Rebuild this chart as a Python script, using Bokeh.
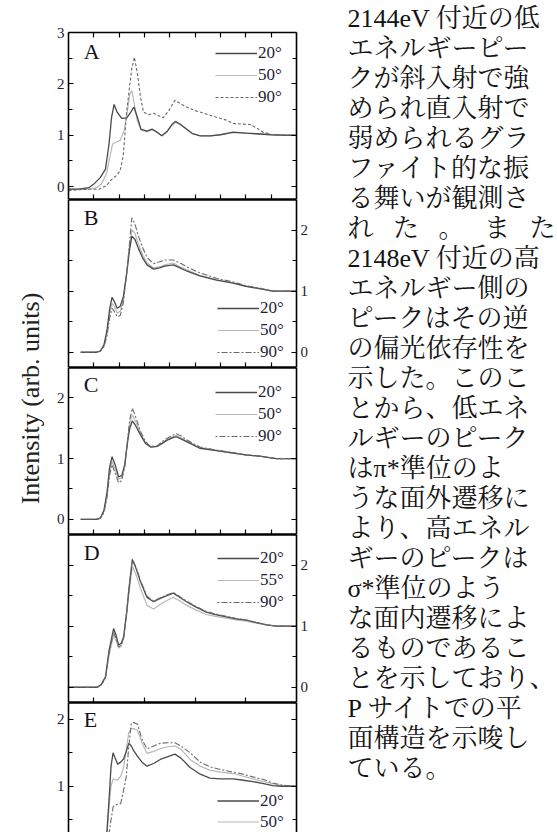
import numpy as np
from bokeh.plotting import figure
from bokeh.models import (Range1d, FixedTicker, LinearAxis, Label, Legend, LegendItem,
                          CustomJSTickFormatter, ColumnDataSource)
from bokeh.layouts import row, column
from bokeh.embed import file_html
from bokeh.resources import INLINE
from bokeh.core.properties import value

SERIF = "Liberation Serif"

# ---------------- data (photon energy in eV, normalised intensity) ----------------
X_TICKS = [2140, 2145, 2150, 2155, 2160, 2165, 2170, 2175]
X_TICKS_WIDE = [2140, 2150, 2160, 2170]

# Panel A
A_E20 = [2135, 2137, 2139, 2140, 2141.3, 2142.3, 2143, 2143.5, 2144, 2144.6, 2145.5, 2146.5, 2147.3,
         2147.9, 2148.5, 2149.3, 2150.5, 2151.5, 2152.5, 2153.4, 2154.5, 2155.5, 2156.1, 2157, 2158.3,
         2159.5, 2161, 2163, 2165, 2167.5, 2170, 2172, 2175, 2178, 2180]
A_I20 = [-0.05, -0.05, -0.02, 0.05, 0.18, 0.34, 0.83, 1.35, 1.6, 1.45, 1.33, 1.34, 1.45,
         1.55, 1.38, 1.12, 1.08, 1.12, 1.06, 0.99, 1.08, 1.22, 1.27, 1.22, 1.12,
         1.03, 0.99, 0.99, 1.01, 1.06, 1.04, 1.03, 1.01, 1.0, 1.0]
A_E50 = [2135, 2137, 2139, 2140.5, 2141.5, 2142.5, 2143.2, 2143.7, 2144.3, 2145.2, 2146, 2146.6, 2147.1,
         2147.5, 2148, 2148.6, 2149.3, 2150.5, 2151.5, 2152.5, 2153.4, 2154.5, 2155.5, 2156.1, 2157,
         2158.3, 2159.5, 2161, 2163, 2165, 2167.5, 2170, 2172, 2175, 2178, 2180]
A_I50 = [-0.05, -0.05, -0.05, -0.02, 0.05, 0.25, 0.6, 0.83, 0.86, 0.9, 1.1, 1.45, 1.8,
         1.87, 1.6, 1.28, 1.1, 1.07, 1.11, 1.06, 0.99, 1.07, 1.2, 1.25, 1.21,
         1.11, 1.03, 0.99, 0.99, 1.01, 1.05, 1.04, 1.03, 1.01, 1.0, 1.0]
A_E90 = [2135, 2137, 2139, 2141, 2142.5, 2143.3, 2144.5, 2145.2, 2145.8, 2146.5, 2147, 2147.5, 2148,
         2148.6, 2149.2, 2149.8, 2150.8, 2151.8, 2152.8, 2153.7, 2154.8, 2156, 2157, 2158.3, 2160,
         2162, 2164.2, 2166, 2167.5, 2169, 2170.8, 2172, 2173.4, 2175, 2176, 2178, 2180]
A_I90 = [-0.08, -0.06, -0.05, -0.05, 0.02, 0.12, 0.22, 0.31, 0.6, 1.48, 1.9, 2.3, 2.52,
         2.2, 1.75, 1.45, 1.4, 1.43, 1.38, 1.34, 1.48, 1.68, 1.62, 1.55, 1.48,
         1.42, 1.35, 1.3, 1.23, 1.22, 1.21, 1.15, 1.06, 1.02, 1.0, 1.0, 1.0]

# Panel B
B_E = [2137.4, 2139, 2140.5, 2141.3, 2142, 2142.6, 2143.1, 2143.6, 2144.1, 2144.6, 2145.2, 2145.8,
       2146.5, 2147, 2147.5, 2148.1, 2148.8, 2149.6, 2150.5, 2151.8, 2153, 2154, 2155.7, 2157,
       2158.3, 2160.9, 2164.2, 2167.5, 2170, 2172.7, 2175.3, 2178, 2180]
B_I20 = [0.0, 0.0, 0.0, 0.02, 0.12, 0.36, 0.7, 0.9, 0.82, 0.72, 0.75, 0.9,
         1.3, 1.65, 1.9, 1.85, 1.7, 1.55, 1.43, 1.36, 1.38, 1.41, 1.43, 1.38,
         1.33, 1.25, 1.18, 1.13, 1.08, 1.04, 1.0, 1.0, 1.0]
B_I50 = [0.0, 0.0, 0.0, 0.02, 0.1, 0.3, 0.62, 0.8, 0.74, 0.64, 0.67, 0.85,
         1.3, 1.7, 2.0, 1.95, 1.77, 1.6, 1.46, 1.38, 1.4, 1.43, 1.46, 1.4,
         1.35, 1.26, 1.19, 1.13, 1.08, 1.04, 1.0, 1.0, 1.0]
B_I90 = [0.0, 0.0, 0.0, 0.02, 0.09, 0.27, 0.55, 0.72, 0.66, 0.58, 0.6, 0.8,
         1.3, 1.75, 2.2, 2.1, 1.9, 1.72, 1.55, 1.45, 1.48, 1.51, 1.51, 1.46,
         1.4, 1.3, 1.21, 1.15, 1.09, 1.05, 1.0, 1.0, 1.0]

# Panel C
C_E = [2137.4, 2139, 2140.5, 2141.3, 2142, 2142.6, 2143.1, 2143.6, 2144.2, 2144.9, 2145.5, 2146.1,
       2146.7, 2147.1, 2147.6, 2148.2, 2149.2, 2150.2, 2151.2, 2152.5, 2153.5, 2154.4, 2155.5, 2156.3,
       2157.3, 2158.3, 2160.9, 2164.2, 2167.5, 2170, 2172.7, 2176, 2180]
C_I20 = [0.0, 0.0, 0.0, 0.02, 0.15, 0.44, 0.85, 1.03, 0.9, 0.7, 0.72, 0.9,
         1.3, 1.5, 1.62, 1.55, 1.39, 1.25, 1.19, 1.2, 1.25, 1.3, 1.34, 1.36,
         1.32, 1.28, 1.17, 1.13, 1.09, 1.06, 1.04, 1.0, 1.0]
C_I50 = [0.0, 0.0, 0.0, 0.02, 0.13, 0.4, 0.78, 0.95, 0.82, 0.66, 0.68, 0.88,
         1.32, 1.58, 1.72, 1.62, 1.42, 1.26, 1.19, 1.2, 1.26, 1.31, 1.36, 1.38,
         1.34, 1.29, 1.18, 1.13, 1.09, 1.06, 1.04, 1.0, 1.0]
C_I90 = [0.0, 0.0, 0.0, 0.02, 0.11, 0.36, 0.72, 0.9, 0.76, 0.6, 0.64, 0.86,
         1.35, 1.65, 1.83, 1.7, 1.45, 1.28, 1.2, 1.21, 1.28, 1.33, 1.38, 1.41,
         1.37, 1.31, 1.19, 1.14, 1.1, 1.06, 1.04, 1.0, 1.0]

# Panel D
D_E = [2135, 2137, 2139, 2140.7, 2141.5, 2142.3, 2143, 2143.9, 2144.4, 2144.9, 2145.4, 2145.9,
       2146.5, 2146.9, 2147.6, 2148.3, 2149.2, 2150.5, 2151.8, 2153, 2154.4, 2155.7, 2157, 2158.3,
       2160, 2162.2, 2164, 2166.2, 2168, 2170.1, 2172, 2174.1, 2176, 2180]
D_I20 = [0.0, 0.0, 0.0, 0.0, 0.05, 0.17, 0.6, 0.96, 0.85, 0.69, 0.72, 0.83,
         1.25, 1.59, 2.09, 1.95, 1.73, 1.47, 1.4, 1.45, 1.5, 1.54, 1.47, 1.4,
         1.32, 1.23, 1.19, 1.15, 1.12, 1.1, 1.06, 1.02, 1.0, 1.0]
D_I55 = [0.0, 0.0, 0.0, 0.0, 0.04, 0.15, 0.52, 0.85, 0.76, 0.64, 0.67, 0.8,
         1.2, 1.52, 1.98, 1.85, 1.62, 1.34, 1.28, 1.35, 1.42, 1.47, 1.41, 1.34,
         1.27, 1.19, 1.16, 1.13, 1.1, 1.08, 1.05, 1.02, 1.0, 1.0]
D_I90 = [0.0, 0.0, 0.0, 0.0, 0.04, 0.16, 0.56, 0.9, 0.8, 0.66, 0.69, 0.82,
         1.24, 1.58, 2.1, 1.97, 1.75, 1.49, 1.41, 1.46, 1.51, 1.55, 1.48, 1.41,
         1.33, 1.24, 1.2, 1.16, 1.13, 1.1, 1.06, 1.02, 1.0, 1.0]

# Panel E
E_E = [2137.4, 2139, 2140.5, 2141.5, 2142.2, 2142.6, 2143, 2143.4, 2143.8, 2144.2, 2144.7, 2145.3,
       2145.9, 2146.4, 2146.9, 2147.4, 2147.8, 2148.6, 2149.5, 2150.5, 2151.8, 2153.1, 2154.5, 2156,
       2157.2, 2159, 2161, 2162.9, 2165, 2167.5, 2169.5, 2171.4, 2173.5, 2175.3, 2177, 2180]
E_I20 = [0.0, 0.0, 0.0, 0.03, 0.12, 0.34, 0.8, 1.3, 1.5, 1.42, 1.33, 1.36,
         1.41, 1.52, 1.64, 1.6, 1.54, 1.45, 1.36, 1.3, 1.34, 1.4, 1.44, 1.48,
         1.42, 1.28, 1.18, 1.12, 1.11, 1.11, 1.09, 1.07, 1.04, 1.01, 1.0, 1.0]
E_I50 = [0.0, 0.0, 0.0, 0.03, 0.1, 0.3, 0.7, 1.0, 1.11, 1.1, 1.09, 1.15,
         1.29, 1.55, 1.8, 1.86, 1.86, 1.84, 1.65, 1.49, 1.52, 1.56, 1.59, 1.6,
         1.55, 1.4, 1.3, 1.24, 1.21, 1.19, 1.15, 1.11, 1.07, 1.04, 1.01, 1.0]
E_I90 = [0.0, 0.0, 0.0, 0.02, 0.06, 0.15, 0.3, 0.5, 0.69, 0.72, 0.73, 0.74,
         0.95, 1.14, 1.6, 1.94, 1.95, 1.93, 1.7, 1.56, 1.6, 1.64, 1.65, 1.65,
         1.6, 1.5, 1.36, 1.29, 1.25, 1.21, 1.18, 1.14, 1.1, 1.05, 1.02, 1.0]

Y_LABEL = "Intensity (arb. units)"

TEXT_LINES = [
    "2144eV 付近の低", "エネルギーピー", "クが斜入射で強", "められ直入射で",
    "弱められるグラ", "ファイト的な振", "る舞いが観測さ", "れ\u2002 た\u2002 。\u2002 ま\u2002 た",
    "2148eV 付近の高", "エネルギー側の", "ピークはその逆", "の偏光依存性を",
    "示した。このこ", "とから、低エネ", "ルギーのピーク", "はπ*準位のよ",
    "うな面外遷移に", "より、高エネル", "ギーのピークは", "σ*準位のよう",
    "な面内遷移によ", "るものであるこ", "とを示しており、", "P サイトでの平",
    "面構造を示唆し", "ている。",
]

# ---------------- styling helpers ----------------
TOTAL_W, TOTAL_H = 557, 832
LABEL_W = 44
FRAME_W = 228
BORDER_L, BORDER_R = 24, 40
C20, C50, C90 = "#4a4a4a", "#b8b8b8", "#6a6a6a"
DASH_A = "3 2"
DASH_BE = "2 2 6 2"


def blank_axis(ax):
    ax.formatter = CustomJSTickFormatter(code="return ''")
    ax.major_label_text_font_size = "0px"
    ax.major_label_standoff = 0


def add_axis(p, side, major, minor, labelled, lw=1.6, tick_in=5):
    ax = LinearAxis(ticker=FixedTicker(ticks=major, minor_ticks=minor),
                    axis_line_width=lw, axis_line_color="black",
                    major_tick_in=tick_in, major_tick_out=0, major_tick_line_width=1.2,
                    minor_tick_in=4, minor_tick_out=0, minor_tick_line_width=1.0,
                    major_label_standoff=4, major_label_text_font=SERIF,
                    major_label_text_font_size="15px", major_label_text_color="#1e1e38")
    if not labelled:
        blank_axis(ax)
    p.add_layout(ax, side)


def panel(y0, y1, fh, top, letter, letter_y, ymajor, yminor, left_labels,
          bottom_ticks=X_TICKS, bottom_axis=True):
    p = figure(frame_width=FRAME_W, frame_height=fh,
               x_range=Range1d(2135, 2180), y_range=Range1d(y0, y1),
               min_border_left=BORDER_L, min_border_right=BORDER_R,
               min_border_top=top, min_border_bottom=0,
               x_axis_location=None, y_axis_location=None,
               output_backend="svg", toolbar_location=None)
    p.outline_line_color = None
    p.grid.visible = False
    add_axis(p, "left", ymajor, yminor, left_labels)
    add_axis(p, "right", ymajor, yminor, not left_labels)
    if top > 0:
        add_axis(p, "above", X_TICKS, [], False, lw=1.6)
    else:
        add_axis(p, "above", X_TICKS, [], False, lw=2.4, tick_in=0)
    if bottom_axis:
        add_axis(p, "below", bottom_ticks, [], False, lw=2.4)
    p.add_layout(Label(x=2138.0, y=letter_y, text=letter, text_font=SERIF,
                       text_font_size="22px", text_color="#111122"))
    return p


def curves(p, e1, i1, e2, i2, e3, i3, labels, dash90, loc, n_items=3, row_h=22):
    r50 = p.line(e2, i2, line_color=C50, line_width=1.2)
    r20 = p.line(e1, i1, line_color=C20, line_width=1.3)
    r90 = p.line(e3, i3, line_color=C90, line_width=1.1, line_dash=dash90)
    rends = [r20, r50, r90]
    items = [LegendItem(label=labels[k], renderers=[rends[k]]) for k in range(n_items)]
    leg = Legend(items=items, location=loc, padding=0, margin=0, spacing=0,
                 glyph_width=42, glyph_height=row_h, label_height=row_h, label_standoff=1,
                 label_text_font=SERIF, label_text_font_size="17px",
                 label_text_color="#1e1e38",
                 background_fill_alpha=0, border_line_alpha=0)
    p.add_layout(leg)


pA = panel(-0.25, 3.0, 167, 32, "A", 2.39, [0, 1, 2, 3], [0.5, 1.5, 2.5], True)
curves(pA, A_E20, A_I20, A_E50, A_I50, A_E90, A_I90, ["20°", "50°", "90°"], DASH_A, (147, 91))

pB = panel(-0.25, 2.5, 168, 0, "B", 2.0, [0, 1, 2], [0.5, 1.5], False)
curves(pB, B_E, B_I20, B_E, B_I50, B_E, B_I90, ["20°", "50°", "90°"], DASH_BE, (149, 4))

pC = panel(-0.25, 2.5, 167, 0, "C", 2.02, [0, 1, 2], [0.5, 1.5], True)
curves(pC, C_E, C_I20, C_E, C_I50, C_E, C_I90, ["20°", "50°", "90°"], DASH_BE, (147, 87))

pD = panel(-0.25, 2.5, 168, 0, "D", 2.0, [0, 1, 2], [0.5, 1.5], False, bottom_ticks=X_TICKS_WIDE)
curves(pD, D_E, D_I20, D_E, D_I55, D_E, D_I90, ["20°", "55°", "90°"], DASH_BE, (149, 89))

pE = panel(0.31, 2.25, 130, 0, "E", 1.81, [0, 1, 2], [0.5, 1.5], True, bottom_axis=False)
curves(pE, E_E, E_I20, E_E, E_I50, E_E, E_I90, ["20°", "50°", "90°"], DASH_BE, (149, 0),
       n_items=2, row_h=21)

# y-axis title strip
lp = figure(width=LABEL_W, height=TOTAL_H, x_range=Range1d(0, LABEL_W), y_range=Range1d(0, TOTAL_H),
            min_border=0, x_axis_location=None, y_axis_location=None,
            output_backend="svg", toolbar_location=None)
lp.outline_line_color = None
lp.grid.visible = False
lp.add_layout(Label(x=30, y=TOTAL_H - 398, text=Y_LABEL, angle=np.pi / 2,
                    text_align="center", text_baseline="middle",
                    text_font=SERIF, text_font_size="26px", text_color="#222222"))

# Japanese description column
TW = TOTAL_W - LABEL_W - (BORDER_L + FRAME_W + BORDER_R)
tp = figure(width=TW, height=TOTAL_H, x_range=Range1d(0, TW), y_range=Range1d(0, TOTAL_H),
            min_border=0, x_axis_location=None, y_axis_location=None,
            output_backend="svg", toolbar_location=None)
tp.outline_line_color = None
tp.grid.visible = False
n = len(TEXT_LINES)
src = ColumnDataSource(dict(x=[11] * n, y=[TOTAL_H - (18 + 30 * i) for i in range(n)], t=TEXT_LINES))
tp.text(x="x", y="y", text="t", source=src,
        text_font=value("'Liberation Serif', 'Noto Serif CJK JP', 'Noto Sans CJK JP Light', "
                        "'Noto Sans CJK JP DemiLight', 'Noto Sans CJK JP'"),
        text_font_size="26px", text_baseline="middle", text_align="left", text_color="#141414")

layout = row(lp, column(pA, pB, pC, pD, pE), tp)

open("out.html", "w").write(file_html(layout, INLINE))
